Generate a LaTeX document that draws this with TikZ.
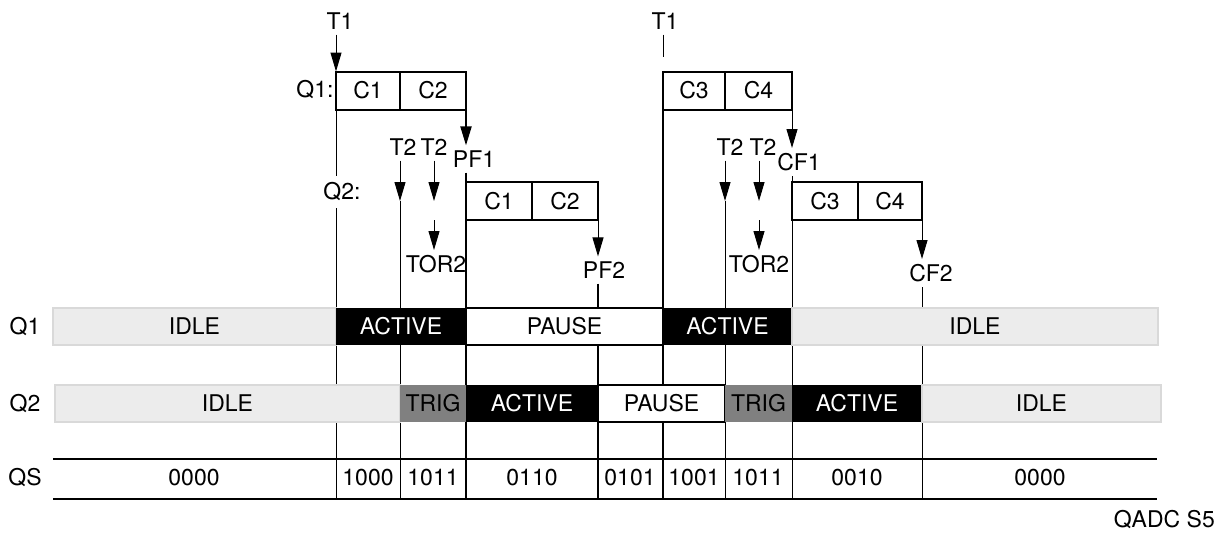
\documentclass[tikz,border=0pt]{standalone}
\usepackage{fontspec}
\setmainfont{TeX Gyre Heros}
\usetikzlibrary{arrows.meta,positioning}

\begin{document}
\begin{tikzpicture}[
    x=1pt, y=-1pt,
    every node/.style={font=\fontsize{23}{27}\selectfont, inner sep=5pt},
    % Etats des files
    etat/.style={minimum height=37, inner sep=0pt, outer sep=0pt, anchor=west},
    repos/.style={etat, fill=gray!15, draw=gray!30, line width=2},
    actif/.style={etat, fill=black, text=white},
    attente/.style={etat, fill=white, draw=black, line width=2},
    declic/.style={etat, fill=gray},
    % Cases des conversions
    conv/.style={draw, line width=2, minimum height=38, inner sep=0pt, outer sep=0pt, anchor=west},
    fleche/.style={-{Triangle[length=19pt,width=11pt]}},
    fin/.style={line width=1},
    moyen/.style={line width=2},
    epais/.style={line width=2.5}
]
\useasboundingbox (0,0) rectangle (1225,533);

% Déclencheurs T1
\node (t1a) at (340,21) {T1};
\node (t1b) at (665,21) {T1};
\coordinate (t1bfin) at (663,57);
\coordinate (bas) at (0,498);

% Conversions de Q1
\node[conv, minimum width=64] (q1c1) at (336,90.5) {C1};
\node[conv, minimum width=66, right=0pt of q1c1] (q1c2) {C2};
\node[conv, minimum width=62] (q1c3) at (663,90.5) {C3};
\node[conv, minimum width=67, right=0pt of q1c3] (q1c4) {C4};
\node (q1lab) at (315,90) {Q1:};

% Conversions de Q2
\node[conv, minimum width=66] (q2c1) at (466,201) {C1};
\node[conv, minimum width=66, right=0pt of q2c1] (q2c2) {C2};
\node[conv, minimum width=66] (q2c3) at (792,201) {C3};
\node[conv, minimum width=64, right=0pt of q2c3] (q2c4) {C4};
\node[inner sep=7pt] (q2lab) at (342,192) {Q2:};

% Drapeaux et déclencheurs T2
\node (pf1) at (474,159) {PF1};
\node (pf2) at (604,270) {PF2};
\node (cf1) at (799,162) {CF1};
\node (cf2) at (931,273) {CF2};
\node (t2a) at (403,147) {T2};
\node (t2b) at (434,147) {T2};
\node (t2c) at (730,147) {T2};
\node (t2d) at (763,147) {T2};
\node (tor2a) at (436,264) {TOR2};
\node (tor2b) at (759,264) {TOR2};

% Flèches et traits verticaux
\draw[fleche, fin] (q1c1.north west |- t1a.south) -- (q1c1.north west);
\draw[fin] (q1c1.south west) -- (q1c1.south west |- q2lab.north);
\draw[fin] (q1c1.south west |- q2lab.south) -- (q1c1.south west |- bas);
\draw[fleche, fin] (t2a.south -| q1c1.east) -- (q1c1.east |- q2c1.center);
\draw[fin] (q1c1.east |- q2c1.center) -- (q1c1.east |- bas);
\draw[fleche, fin] (t2b.south) -- (t2b.south |- q2c1.center);
\draw[fleche, fin] (t2b.south |- q2c1.south) -- (t2b.south |- tor2a.north);
\draw[fleche, moyen] (q1c2.south east) -- (q1c2.south east |- pf1.north);
\draw[epais] (q1c2.south east |- pf1.south) -- (q2c1.north west);
\draw[epais] (q2c1.south west) -- (q2c1.south west |- bas);
\draw[fleche, fin] (q2c2.south east) -- (q2c2.south east |- pf2.north);
\draw[epais] (q2c2.south east |- pf2.south) -- (q2c2.south east |- bas);
\draw[fin] (q1c3.north west |- t1b.south) -- (t1bfin);
\draw[epais] (q1c3.south west) -- (q1c3.south west |- bas);
\draw[fleche, fin] (t2c.south -| q1c3.east) -- (q1c3.east |- q2c3.center);
\draw[fin] (q1c3.east |- q2c3.center) -- (q1c3.east |- bas);
\draw[fleche, fin] (tor2b.north |- t2d.south) -- (tor2b.north |- q2c3.center);
\draw[fleche, fin] (tor2b.north |- q2c3.south) -- (tor2b.north);
\draw[fleche, fin] (q1c4.south east) -- (q1c4.south east |- cf1.north);
\draw[fin] (q1c4.south east |- cf1.south) -- (q2c3.north west);
\draw[fin] (q2c3.south west) -- (q2c3.south west |- bas);
\draw[fleche, fin] (q2c4.south east) -- (q2c4.south east |- cf2.north);
\draw[fin] (q2c4.south east |- cf2.south) -- (q2c4.south east |- bas);

% Etats de Q1
\node (q1) at (25,326.5) {Q1};
\node[repos, minimum width=283] (q1idle) at (53,326.5) {IDLE};
\node[actif, minimum width=130, right=0pt of q1idle] (q1act) {ACTIVE};
\node[attente, minimum width=197, right=0pt of q1act] (q1pause) {PAUSE};
\node[actif, minimum width=129, right=0pt of q1pause] (q1act2) {ACTIVE};
\node[repos, minimum width=366, right=0pt of q1act2] (q1idle2) {IDLE};

% Etats de Q2
\node (q2) at (25,403.5) {Q2};
\node[repos, minimum width=345] (q2idle) at (55,403.5) {IDLE};
\node[declic, minimum width=66, right=0pt of q2idle] (q2trig) {TRIG};
\node[actif, minimum width=132, right=0pt of q2trig] (q2act) {ACTIVE};
\node[attente, minimum width=127, right=0pt of q2act] (q2pause) {PAUSE};
\node[declic, minimum width=67, right=0pt of q2pause] (q2trig2) {TRIG};
\node[actif, minimum width=130, right=0pt of q2trig2] (q2act2) {ACTIVE};
\node[repos, minimum width=239, right=0pt of q2act2] (q2idle2) {IDLE};

% Etat QS
\node (qs) at (25,478) {QS};
\draw[moyen] (53,459) -- (1157,459);
\draw[moyen] (53,499) -- (1157,499);
\foreach \pos/\val [count=\i] in {194/0000, 368/1000, 433/1011, 532/0110, 630/0101,
    694/1001, 758/1011, 857/0010, 1040/0000}
    \node (qs\i) at (\pos,478) {\val};

\node[anchor=east] (titre) at (1220,520) {QADC S5};
\end{tikzpicture}
\end{document}
